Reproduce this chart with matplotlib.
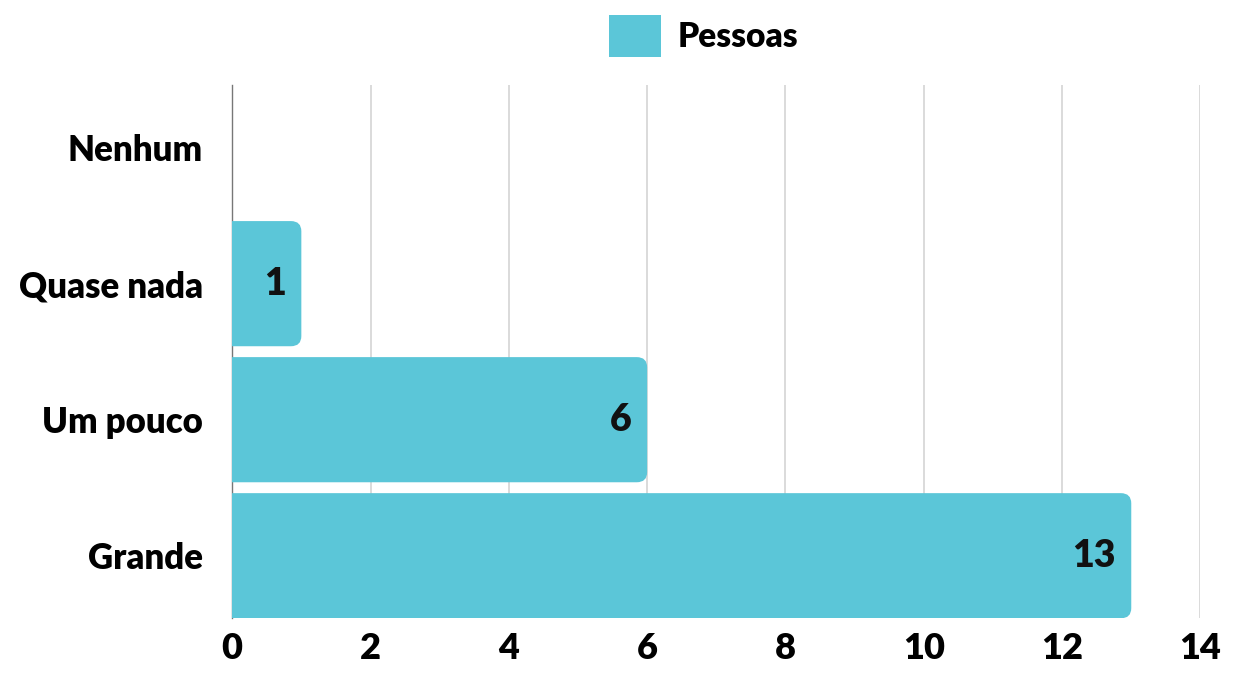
import matplotlib.pyplot as plt
from matplotlib.patches import FancyBboxPatch, Rectangle

plt.rcParams['font.family'] = ['Lato', 'DejaVu Sans']

categorias = ["Nenhum", "Quase nada", "Um pouco", "Grande"]
pessoas = [0, 1, 6, 13]
xticks = [0, 2, 4, 6, 8, 10, 12, 14]
cor = "#5BC6D8"

fig = plt.figure(figsize=(12.35, 6.75), dpi=100)
ax = fig.add_axes([0.188, 0.084, 0.784, 0.79])

altura = 0.92
for i, v in enumerate(pessoas):
    if v <= 0:
        continue
    # começa antes do zero: os cantos da esquerda ficam cortados pelo eixo
    ax.add_patch(FancyBboxPatch((-0.5, i - altura / 2), v + 0.5, altura,
                                boxstyle="round,pad=0,rounding_size=0.15",
                                mutation_aspect=0.5, fc=cor, ec="none", zorder=3))
    ax.text(v - 0.22, i, str(v), ha="right", va="center",
            fontsize=27, fontweight="heavy", color="#111111", zorder=4)

ax.set_xlim(0, 14)
ax.set_ylim(3.46, -0.46)
ax.set_yticks(range(len(categorias)))
ax.set_yticklabels(categorias, fontsize=25, fontweight="heavy")
ax.set_xticks(xticks)
ax.set_xticklabels([str(t) for t in xticks], fontsize=26, fontweight="heavy")
ax.tick_params(length=0, pad=10)
ax.tick_params(axis="y", pad=21)
ax.xaxis.grid(True, color="#d4d4d4", lw=1.2, zorder=0)
for s in ["top", "right", "bottom"]:
    ax.spines[s].set_visible(False)
ax.spines["left"].set_color("#777777")
ax.spines["left"].set_linewidth(1.0)

leg_h = Rectangle((0, 0), 1, 1, fc=cor, ec="none")
fig.legend([leg_h], ["Pessoas"], loc="upper center", bbox_to_anchor=(0.57, 1.022),
           frameon=False, handlelength=1.55, handleheight=1.55,
           prop={"size": 24, "weight": "heavy"}, handletextpad=0.5)

fig.savefig("out.png", dpi=100)
